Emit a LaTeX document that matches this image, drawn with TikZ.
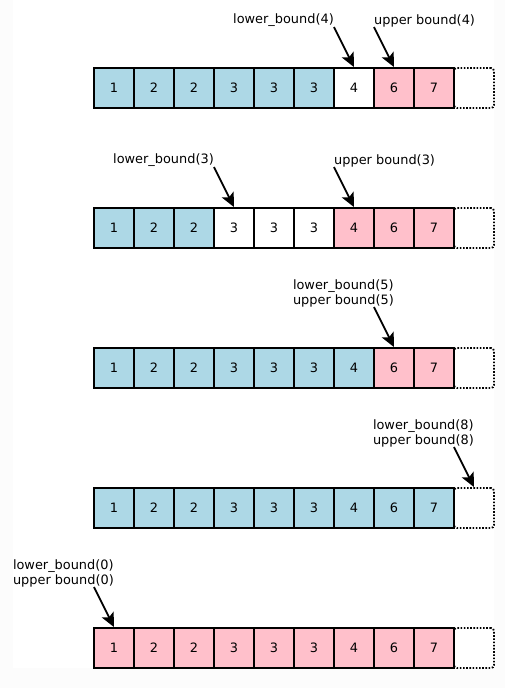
\documentclass[tikz,border=0pt]{standalone}
\usepackage{fontspec}
\setmainfont{DejaVu Sans}
\usetikzlibrary{arrows.meta, positioning}
\definecolor{lessblue}{RGB}{173,216,230}
\definecolor{morepink}{RGB}{255,192,203}
\definecolor{bggray}{RGB}{252,252,252}

\begin{document}
\begin{tikzpicture}[x=1pt, y=1pt,
  font=\fontsize{12.9}{15}\selectfont,
  cell/.style={draw, line width=1.8pt, minimum size=40pt, inner sep=0pt},
  endcell/.style={draw, line width=1.8pt, dash pattern=on 1.6pt off 1.6pt,
    rounded corners=3pt, minimum size=40pt, inner sep=0pt},
  lbl/.style={inner sep=0pt, align=left},
  ptr/.style={line width=1.8pt, -{Stealth[length=14pt, width=13pt, inset=3pt]}}]
  % page
  \fill[bggray] (0,0) rectangle (505,688);
  \fill[white] (13,20) rectangle (494,688);
  % one array per search key
  \foreach \r/\key in {1/4, 2/3, 3/5, 4/8, 5/0} {
    \foreach \v [count=\i] in {1,2,2,3,3,3,4,6,7} {
      \ifnum\v<\key \def\fc{lessblue}\else\ifnum\v=\key \def\fc{white}\else\def\fc{morepink}\fi\fi
      \node[cell, fill=\fc] (c\r-\i) at ({74+40*\i}, {740-140*\r}) {\v};
    }
    \node[endcell] (c\r-10) at (474, {740-140*\r}) {};
  }
  % labels
  \node[lbl, above left=40pt and 20pt of c1-7.north] (lo1) {lower\_bound(4)};
  \node[lbl, above left=40pt and 20pt of c1-8.north, anchor=south west] (up1) {upper bound(4)};
  \node[lbl, above left=40pt and 20pt of c2-4.north] (lo2) {lower\_bound(3)};
  \node[lbl, above left=40pt and 20pt of c2-7.north, anchor=south west] (up2) {upper bound(3)};
  \node[lbl, above left=40pt and 0pt of c3-8.north] (lu3) {lower\_bound(5)\\upper bound(5)};
  \node[lbl, above left=40pt and 0pt of c4-10.north] (lu4) {lower\_bound(8)\\upper bound(8)};
  \node[lbl, above left=40pt and 0pt of c5-1.north] (lu5) {lower\_bound(0)\\upper bound(0)};
  % arrows
  \draw[ptr] (lo1.south east) -- (c1-7.north);
  \draw[ptr] (up1.south west) -- (c1-8.north);
  \draw[ptr] (lo2.south east) -- (c2-4.north);
  \draw[ptr] (up2.south west) -- (c2-7.north);
  \draw[ptr] ([xshift=-20pt]lu3.south east) -- (c3-8.north);
  \draw[ptr] ([xshift=-20pt]lu4.south east) -- (c4-10.north);
  \draw[ptr] ([xshift=-20pt]lu5.south east) -- (c5-1.north);
\end{tikzpicture}
\end{document}
